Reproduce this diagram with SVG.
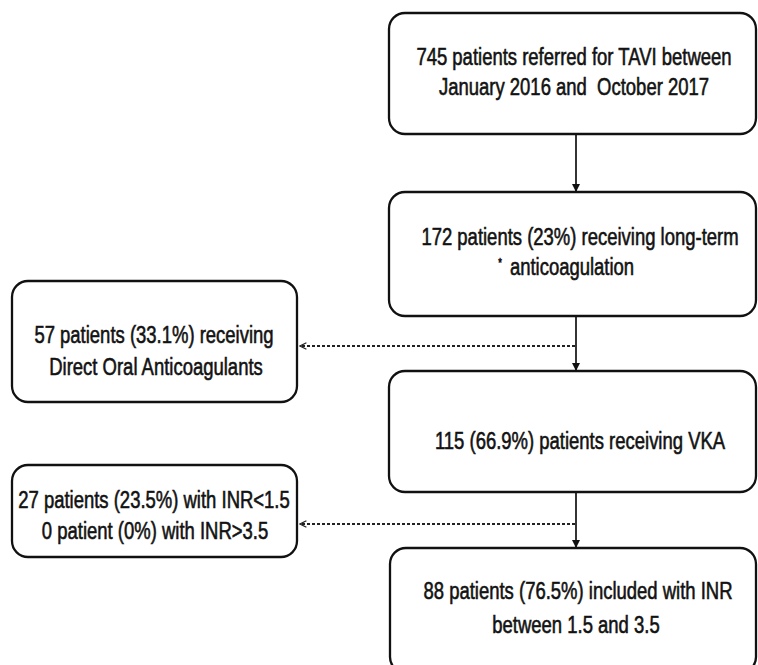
<svg xmlns="http://www.w3.org/2000/svg" width="758" height="665" viewBox="0 0 758 665">
<defs>
<style>
.box{fill:#ffffff;stroke:#111111;stroke-width:2.3}
.t{font-family:"Liberation Sans",Arial,sans-serif;font-size:24px;fill:#121212;stroke:#121212;stroke-width:0.6;text-anchor:middle}
.solid{stroke:#111111;stroke-width:1.7;fill:none}
.dash{stroke:#222222;stroke-width:1.8;fill:none;stroke-dasharray:3 2}
</style>
<marker id="arr" viewBox="0 0 10 10" refX="10" refY="5" markerWidth="8" markerHeight="9" markerUnits="userSpaceOnUse" orient="auto">
<path d="M0,0 L10,5 L0,10 z" fill="#111111"/>
</marker>
<marker id="open" viewBox="0 0 10 10" refX="9" refY="5" markerWidth="8" markerHeight="8" markerUnits="userSpaceOnUse" orient="auto">
<path d="M1,1 L9,5 L1,9" fill="none" stroke="#222222" stroke-width="1.6"/>
</marker>
</defs>
<rect width="758" height="665" fill="#ffffff"/>
<g id="connectors">
<line class="solid" x1="576" y1="134" x2="576" y2="192" marker-end="url(#arr)"/>
<line class="solid" x1="576" y1="316" x2="576" y2="371" marker-end="url(#arr)"/>
<line class="solid" x1="576" y1="492" x2="576" y2="548" marker-end="url(#arr)"/>
<line class="dash" x1="575" y1="346" x2="300" y2="346" marker-end="url(#open)"/>
<line class="dash" x1="575" y1="524" x2="300" y2="524" marker-end="url(#open)"/>
</g>
<g id="referred">
<rect class="box" x="389" y="13" width="367" height="121" rx="16"/>
<text class="t" transform="translate(574,65) scale(0.77,1)">745 patients referred for TAVI between</text>
<text class="t" transform="translate(574,95) scale(0.77,1)" xml:space="preserve">January 2016 and  October 2017</text>
</g>
<g id="anticoagulation">
<rect class="box" x="389" y="192" width="367" height="124" rx="16"/>
<text class="t" transform="translate(580,245) scale(0.77,1)">172 patients (23%) receiving long-term</text>
<text class="t" transform="translate(500,267) scale(0.77,1)" style="font-size:12px">*</text>
<text class="t" transform="translate(572,275) scale(0.77,1)">anticoagulation</text>
</g>
<g id="doac">
<rect class="box" x="12" y="281" width="285" height="121" rx="16"/>
<text class="t" transform="translate(154,343) scale(0.77,1)">57 patients (33.1%) receiving</text>
<text class="t" transform="translate(156,375) scale(0.77,1)">Direct Oral Anticoagulants</text>
</g>
<g id="vka">
<rect class="box" x="389" y="371" width="367" height="121" rx="16"/>
<text class="t" transform="translate(580,449) scale(0.77,1)">115 (66.9%) patients receiving VKA</text>
</g>
<g id="inr-out">
<rect class="box" x="12" y="465" width="285" height="92" rx="16"/>
<text class="t" transform="translate(154,508) scale(0.77,1)">27 patients (23.5%) with INR&lt;1.5</text>
<text class="t" transform="translate(155,539) scale(0.77,1)">0 patient (0%) with INR&gt;3.5</text>
</g>
<g id="included">
<rect class="box" x="390" y="548" width="366" height="125" rx="16"/>
<text class="t" transform="translate(578,599) scale(0.77,1)">88 patients (76.5%) included with INR</text>
<text class="t" transform="translate(576,633) scale(0.77,1)">between 1.5 and 3.5</text>
</g>
</svg>
